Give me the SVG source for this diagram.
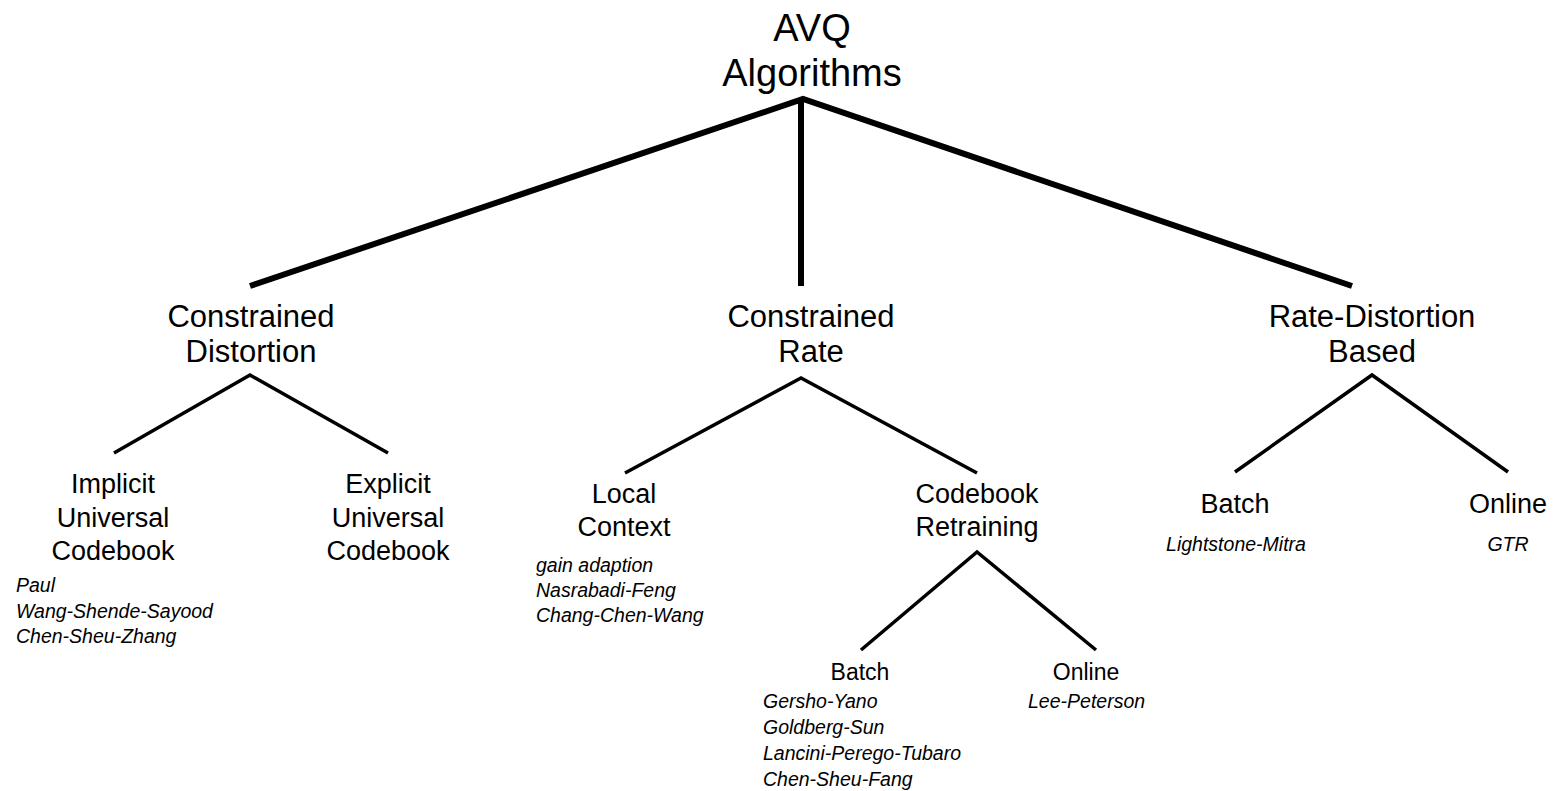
<svg xmlns="http://www.w3.org/2000/svg" width="1558" height="791" viewBox="0 0 1558 791">
<style>
text{font-family:"Liberation Sans",Arial,Helvetica,sans-serif;fill:#000;text-anchor:middle}
.t0{font-size:38px}
.t1{font-size:31px}
.t2{font-size:27px}
.t3{font-size:23px}
.it{font-size:19.5px;font-style:italic;text-anchor:start}
.thick{stroke:#000;stroke-width:6;fill:none}
.thin{stroke:#000;stroke-width:3.5;fill:none}
</style>
<rect width="1558" height="791" fill="#fff"/>
<g id="connectors">
<path class="thick" d="M250,286 L803,99 L1352,286 M801,99 L801,286"/>
<path class="thin" d="M114,453 L250,375 L388,453"/>
<path class="thin" d="M625,473 L801,378 L977,473"/>
<path class="thin" d="M1235,472 L1372,375 L1508,472"/>
<path class="thin" d="M861,650 L977,552 L1096,650"/>
</g>
<g id="root"><text class="t0" x="812" y="41">AVQ</text><text class="t0" x="812" y="86">Algorithms</text></g>
<g id="constrained-distortion"><text class="t1" x="251" y="327">Constrained</text><text class="t1" x="251" y="362">Distortion</text></g>
<g id="constrained-rate"><text class="t1" x="811" y="327">Constrained</text><text class="t1" x="811" y="362">Rate</text></g>
<g id="rate-distortion"><text class="t1" x="1372" y="327">Rate-Distortion</text><text class="t1" x="1372" y="362">Based</text></g>
<g id="implicit"><text class="t2" x="113" y="493">Implicit</text><text class="t2" x="113" y="527">Universal</text><text class="t2" x="113" y="560">Codebook</text>
<text class="it" x="16" y="592">Paul</text><text class="it" x="16" y="618">Wang-Shende-Sayood</text><text class="it" x="16" y="643">Chen-Sheu-Zhang</text></g>
<g id="explicit"><text class="t2" x="388" y="493">Explicit</text><text class="t2" x="388" y="527">Universal</text><text class="t2" x="388" y="560">Codebook</text></g>
<g id="local-context"><text class="t2" x="624" y="503">Local</text><text class="t2" x="624" y="536">Context</text>
<text class="it" x="536" y="572">gain adaption</text><text class="it" x="536" y="597">Nasrabadi-Feng</text><text class="it" x="536" y="622">Chang-Chen-Wang</text></g>
<g id="codebook-retraining"><text class="t2" x="977" y="503">Codebook</text><text class="t2" x="977" y="536">Retraining</text></g>
<g id="cr-batch"><text class="t3" x="860" y="680">Batch</text>
<text class="it" x="763" y="708">Gersho-Yano</text><text class="it" x="763" y="734">Goldberg-Sun</text><text class="it" x="763" y="760">Lancini-Perego-Tubaro</text><text class="it" x="763" y="786">Chen-Sheu-Fang</text></g>
<g id="cr-online"><text class="t3" x="1086" y="680">Online</text><text class="it" x="1028" y="708">Lee-Peterson</text></g>
<g id="rd-batch"><text class="t2" x="1235" y="513">Batch</text><text class="it" style="text-anchor:middle" x="1236" y="551">Lightstone-Mitra</text></g>
<g id="rd-online"><text class="t2" x="1508" y="513">Online</text><text class="it" style="text-anchor:middle" x="1508" y="551">GTR</text></g>
</svg>
